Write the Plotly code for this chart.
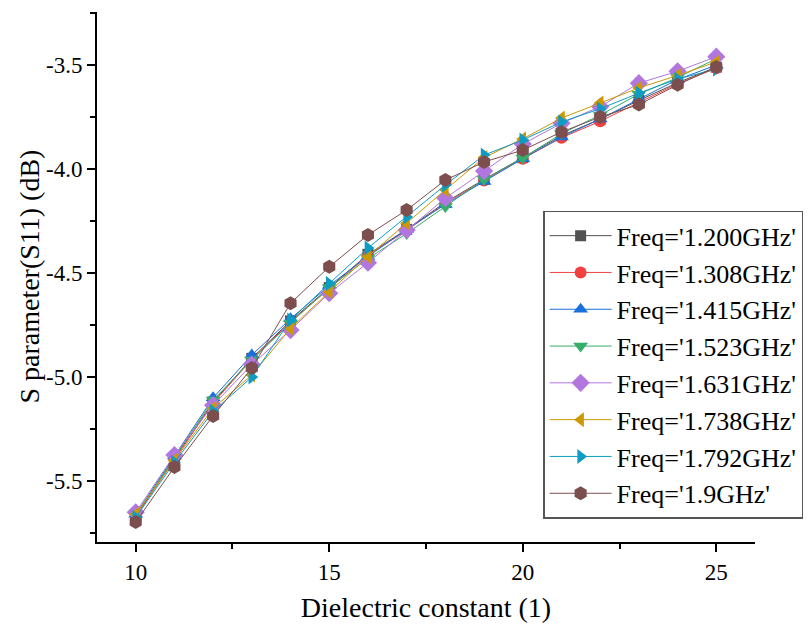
import plotly.graph_objects as go

# Dielectric constant sweep
eps_r = [10, 11, 12, 13, 14, 15, 16, 17, 18, 19, 20, 21, 22, 23, 24, 25]

# S11 (dB) per frequency
s11_1200 = [-5.67, -5.39, -5.12, -4.91, -4.73, -4.57, -4.41, -4.29, -4.16, -4.05, -3.945, -3.84, -3.76, -3.67, -3.585, -3.51]
s11_1308 = [-5.67, -5.395, -5.125, -4.915, -4.735, -4.575, -4.415, -4.295, -4.165, -4.055, -3.95, -3.85, -3.77, -3.68, -3.59, -3.515]
s11_1415 = [-5.66, -5.38, -5.10, -4.894, -4.72, -4.56, -4.42, -4.29, -4.17, -4.06, -3.95, -3.846, -3.76, -3.664, -3.57, -3.50]
s11_1523 = [-5.665, -5.385, -5.11, -4.918, -4.74, -4.57, -4.43, -4.31, -4.18, -4.05, -3.947, -3.83, -3.74, -3.64, -3.56, -3.47]
s11_1631 = [-5.65, -5.375, -5.135, -4.94, -4.774, -4.597, -4.45, -4.293, -4.14, -4.01, -3.88, -3.78, -3.70, -3.587, -3.53, -3.46]
s11_1738 = [-5.66, -5.40, -5.15, -4.99, -4.766, -4.59, -4.42, -4.26, -4.10, -3.945, -3.855, -3.755, -3.683, -3.61, -3.55, -3.485]
s11_1792 = [-5.675, -5.41, -5.165, -5.0, -4.726, -4.55, -4.38, -4.23, -4.077, -3.933, -3.86, -3.774, -3.71, -3.635, -3.567, -3.52]
s11_1900 = [-5.697, -5.433, -5.187, -4.957, -4.645, -4.47, -4.317, -4.197, -4.053, -3.966, -3.909, -3.822, -3.75, -3.69, -3.595, -3.51]

series_names = ["Freq='1.200GHz'", "Freq='1.308GHz'", "Freq='1.415GHz'", "Freq='1.523GHz'",
                "Freq='1.631GHz'", "Freq='1.738GHz'", "Freq='1.792GHz'", "Freq='1.9GHz'"]
series_values = [s11_1200, s11_1308, s11_1415, s11_1523, s11_1631, s11_1738, s11_1792, s11_1900]

x_tickvals = [10, 15, 20, 25]
x_ticktext = ["10", "15", "20", "25"]
y_tickvals = [-5.5, -5.0, -4.5, -4.0, -3.5]
y_ticktext = ["-5.5", "-5.0", "-4.5", "-4.0", "-3.5"]

colors = ["#515151", "#F14040", "#1A6FDF", "#37AD6B", "#B177DE", "#CC9900", "#0E9CC4", "#7D4E4E"]
symbols = ["square", "circle", "triangle-up", "triangle-down", "diamond",
           "triangle-left", "triangle-right", "hexagon"]
sizes = [11, 12, 13, 13, 14, 13, 13, 14]

FONT = "Liberation Serif, Times New Roman, serif"

fig = go.Figure()
for name, vals, c, s, sz in zip(series_names, series_values, colors, symbols, sizes):
    fig.add_trace(go.Scatter(
        x=eps_r, y=vals, name=name, mode="lines+markers",
        line=dict(color=c, width=1),
        marker=dict(symbol=s, size=sz, color=c, line=dict(width=0)),
    ))

fig.update_layout(
    width=809, height=629,
    margin=dict(l=97, r=54, t=12, b=87, autoexpand=False),
    paper_bgcolor="white", plot_bgcolor="white",
    font=dict(family=FONT, color="black"),
    showlegend=True,
    legend=dict(
        x=0.678, y=0.625, xanchor="left", yanchor="top",
        bgcolor="white", bordercolor="#555555", borderwidth=1.5,
        font=dict(family=FONT, size=26, color="black"),
        itemwidth=62, tracegroupgap=0,
    ),
    xaxis=dict(
        range=[9, 26], showgrid=False, zeroline=False,
        showline=True, linecolor="black", linewidth=2,
        ticks="outside", ticklen=8, tickwidth=2, tickcolor="black",
        tickvals=x_tickvals, ticktext=x_ticktext,
        tickfont=dict(family=FONT, size=23),
        minor=dict(ticks="outside", ticklen=5, tickwidth=2, tickcolor="black", dtick=2.5, tick0=10),
        title=dict(text="Dielectric constant (1)", font=dict(family=FONT, size=28), standoff=14),
    ),
    yaxis=dict(
        range=[-5.793, -3.245], showgrid=False, zeroline=False,
        showline=True, linecolor="black", linewidth=2,
        ticks="outside", ticklen=8, tickwidth=2, tickcolor="black",
        tickvals=y_tickvals, ticktext=y_ticktext,
        tickfont=dict(family=FONT, size=23),
        minor=dict(ticks="outside", ticklen=5, tickwidth=2, tickcolor="black", dtick=0.25, tick0=-3.5),
    ),
    annotations=[dict(
        text="S parameter(S11) (dB)", textangle=-90,
        xref="paper", yref="paper", x=-0.104, y=0.5,
        xanchor="center", yanchor="middle", showarrow=False,
        font=dict(family=FONT, size=28, color="black"),
    )],
)

fig.write_html("out.html")
